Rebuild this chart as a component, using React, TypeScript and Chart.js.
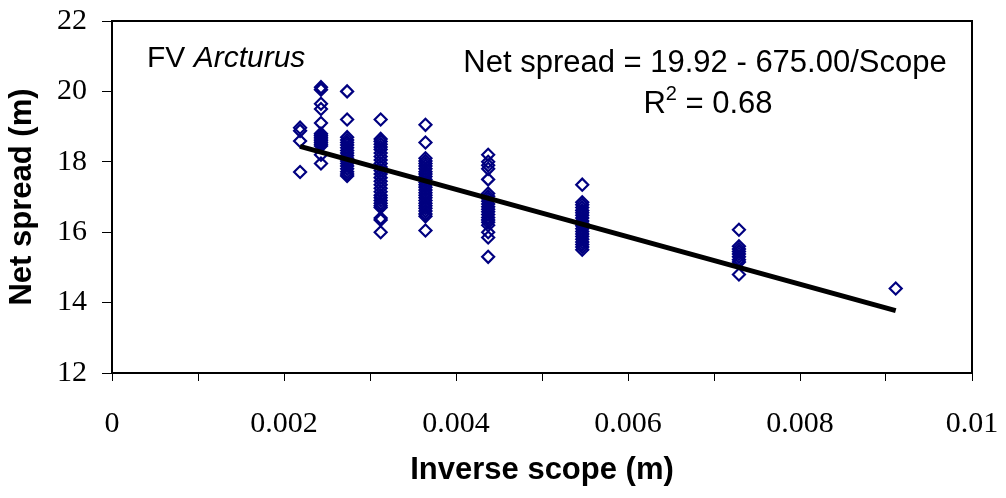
import React, { useEffect, useRef } from 'react';
import { Chart, registerables } from 'chart.js';

Chart.register(...registerables);

// Inverse scope (1/m) for each scope setting
const inverseScope = [0.002187, 0.00243, 0.002734, 0.003124, 0.003645, 0.004374, 0.005468, 0.00729, 0.009113];

// Net spread (m) observed at each scope setting
const spreadAt457 = [18.97, 18.88, 18.59, 17.71];
const spreadAt412 = [20.12, 20.05, 19.65, 19.5, 19.1, 18.8, 18.75, 18.7, 18.65, 18.6, 18.55, 18.5, 18.45, 18.2, 17.95];
const spreadAt366 = [20.0, 19.2, 18.7, 18.62, 18.55, 18.48, 18.4, 18.32, 18.25, 18.18, 18.1, 18.02, 17.95, 17.88, 17.8, 17.72, 17.65, 17.6];
const spreadAt320 = [19.2, 18.65, 18.58, 18.5, 18.42, 18.35, 18.25, 18.15, 18.05, 17.95, 17.85, 17.75, 17.65, 17.55, 17.45, 17.35, 17.25, 17.15, 17.05, 16.98, 16.9, 16.82, 16.75, 16.7, 16.4, 16.35, 16.0];
const spreadAt274 = [19.05, 18.55, 18.1, 18.02, 17.95, 17.88, 17.8, 17.72, 17.65, 17.58, 17.5, 17.42, 17.35, 17.28, 17.2, 17.12, 17.05, 16.98, 16.9, 16.82, 16.75, 16.68, 16.6, 16.52, 16.45, 16.05];
const spreadAt229 = [18.2, 18.0, 17.9, 17.8, 17.5, 17.1, 17.02, 16.95, 16.88, 16.8, 16.72, 16.65, 16.58, 16.5, 16.42, 16.35, 16.28, 16.2, 16.0, 15.85, 15.3];
const spreadAt183 = [17.35, 16.85, 16.78, 16.7, 16.62, 16.55, 16.48, 16.4, 16.32, 16.25, 16.18, 16.1, 16.02, 15.95, 15.88, 15.8, 15.72, 15.65, 15.58, 15.5];
const spreadAt137 = [16.07, 15.6, 15.52, 15.45, 15.38, 15.3, 15.22, 15.15, 14.8];
const spreadAt110 = [14.4];

const spreadColumns = [spreadAt457, spreadAt412, spreadAt366, spreadAt320, spreadAt274, spreadAt229, spreadAt183, spreadAt137, spreadAt110];

// Fitted trend line end points: Net spread = 19.92 - 675.00/Scope
const trendX = [0.002187, 0.009113];
const trendY = [18.44, 13.77];

const xTickLabels = ['0', '', '0.002', '', '0.004', '', '0.006', '', '0.008', '', '0.01'];
const yTickLabels = ['12', '14', '16', '18', '20', '22'];

const equationText = 'Net spread = 19.92 - 675.00/Scope';
const rSquaredText = ' = 0.68';

const SANS = '"Liberation Sans", Arial, sans-serif';
const SERIF = '"Liberation Serif", "Times New Roman", serif';

const annotations = {
  id: 'annotations',
  afterDraw(chart: any) {
    const { ctx, chartArea } = chart;
    ctx.save();
    // top and right frame lines
    ctx.strokeStyle = '#000';
    ctx.lineWidth = 2;
    ctx.beginPath();
    ctx.moveTo(chartArea.left, chartArea.top);
    ctx.lineTo(chartArea.right, chartArea.top);
    ctx.lineTo(chartArea.right, chartArea.bottom);
    ctx.stroke();

    ctx.fillStyle = '#000';
    ctx.textBaseline = 'alphabetic';
    ctx.textAlign = 'left';
    ctx.font = `30px ${SANS}`;
    ctx.fillText('FV ', 147, 67);
    const fvW = ctx.measureText('FV ').width;
    ctx.font = `italic 30px ${SANS}`;
    ctx.fillText('Arcturus', 147 + fvW, 67);

    ctx.font = `31px ${SANS}`;
    ctx.textAlign = 'center';
    ctx.fillText(equationText, 705, 72);

    // R^2 line
    ctx.textAlign = 'left';
    ctx.font = `31px ${SANS}`;
    const rW = ctx.measureText('R').width;
    const tailW = ctx.measureText(rSquaredText).width;
    ctx.font = `20px ${SANS}`;
    const supW = ctx.measureText('2').width;
    const total = rW + supW + tailW;
    const startX = 708 - total / 2;
    ctx.font = `31px ${SANS}`;
    ctx.fillText('R', startX, 113);
    ctx.font = `20px ${SANS}`;
    ctx.fillText('2', startX + rW, 100);
    ctx.font = `31px ${SANS}`;
    ctx.fillText(rSquaredText, startX + rW + supW, 113);
    ctx.restore();
  },
};

export default function App() {
  const canvasRef = useRef<HTMLCanvasElement | null>(null);

  useEffect(() => {
    document.body.style.margin = '0';
    const canvas = canvasRef.current;
    if (!canvas) return;

    const points: { x: number; y: number }[] = [];
    spreadColumns.forEach((col, i) => {
      col.forEach((v) => points.push({ x: inverseScope[i], y: v }));
    });
    const trend = trendX.map((x, i) => ({ x, y: trendY[i] }));

    const chart = new Chart(canvas, {
      type: 'scatter',
      data: {
        datasets: [
          {
            label: 'Trend',
            data: trend,
            showLine: true,
            borderColor: '#000',
            borderWidth: 5,
            pointRadius: 0,
            order: 0,
          } as any,
          {
            label: 'Net spread',
            data: points,
            pointStyle: 'rectRot',
            pointRadius: 6,
            pointBorderWidth: 2.2,
            pointBorderColor: '#000080',
            pointBackgroundColor: 'rgba(0,0,0,0)',
            borderColor: '#000080',
            backgroundColor: 'rgba(0,0,0,0)',
            order: 1,
          } as any,
        ],
      },
      options: {
        responsive: false,
        animation: false,
        devicePixelRatio: 1,
        layout: { padding: { top: 21, right: 34, left: 0, bottom: 0 } },
        plugins: {
          legend: { display: false },
          tooltip: { enabled: false },
        },
        scales: {
          x: {
            type: 'linear',
            min: 0,
            max: 0.01,
            afterFit: (scale: any) => {
              scale.height = 125;
              scale.paddingLeft = 0;
              scale.paddingRight = 0;
            },
            ticks: {
              stepSize: 0.001,
              padding: 25,
              maxRotation: 0,
              autoSkip: false,
              color: '#000',
              font: { family: SERIF, size: 30 },
              callback: (_v: any, i: number) => xTickLabels[i] ?? '',
            },
            grid: {
              display: true,
              drawOnChartArea: false,
              drawTicks: true,
              tickLength: 8,
              color: '#000',
              lineWidth: 1,
            },
            border: { display: true, color: '#000', width: 2 },
            title: {
              display: true,
              text: 'Inverse scope (m)',
              color: '#000',
              font: { family: SANS, size: 31, weight: 'bold' },
              padding: { top: 0, bottom: 9 },
            },
          },
          y: {
            type: 'linear',
            min: 12,
            max: 22,
            afterFit: (scale: any) => {
              scale.width = 112;
              scale.paddingTop = 0;
              scale.paddingBottom = 0;
            },
            ticks: {
              stepSize: 2,
              padding: 15,
              autoSkip: false,
              color: '#000',
              font: { family: SERIF, size: 30 },
              callback: (_v: any, i: number) => yTickLabels[i] ?? '',
            },
            grid: {
              display: true,
              drawOnChartArea: false,
              drawTicks: true,
              tickLength: 10,
              color: '#000',
              lineWidth: 1,
            },
            border: { display: true, color: '#000', width: 2 },
            title: {
              display: true,
              text: 'Net spread (m)',
              color: '#000',
              font: { family: SANS, size: 31, weight: 'bold' },
              padding: { top: 4, bottom: 0 },
            },
          },
        },
      } as any,
      plugins: [annotations],
    });

    return () => chart.destroy();
  }, []);

  return (
    <div style={{ position: 'absolute', left: 0, top: 0, width: 1006, height: 498, background: '#fff' }}>
      <canvas ref={canvasRef} width={1006} height={498} style={{ width: 1006, height: 498 }} />
    </div>
  );
}
